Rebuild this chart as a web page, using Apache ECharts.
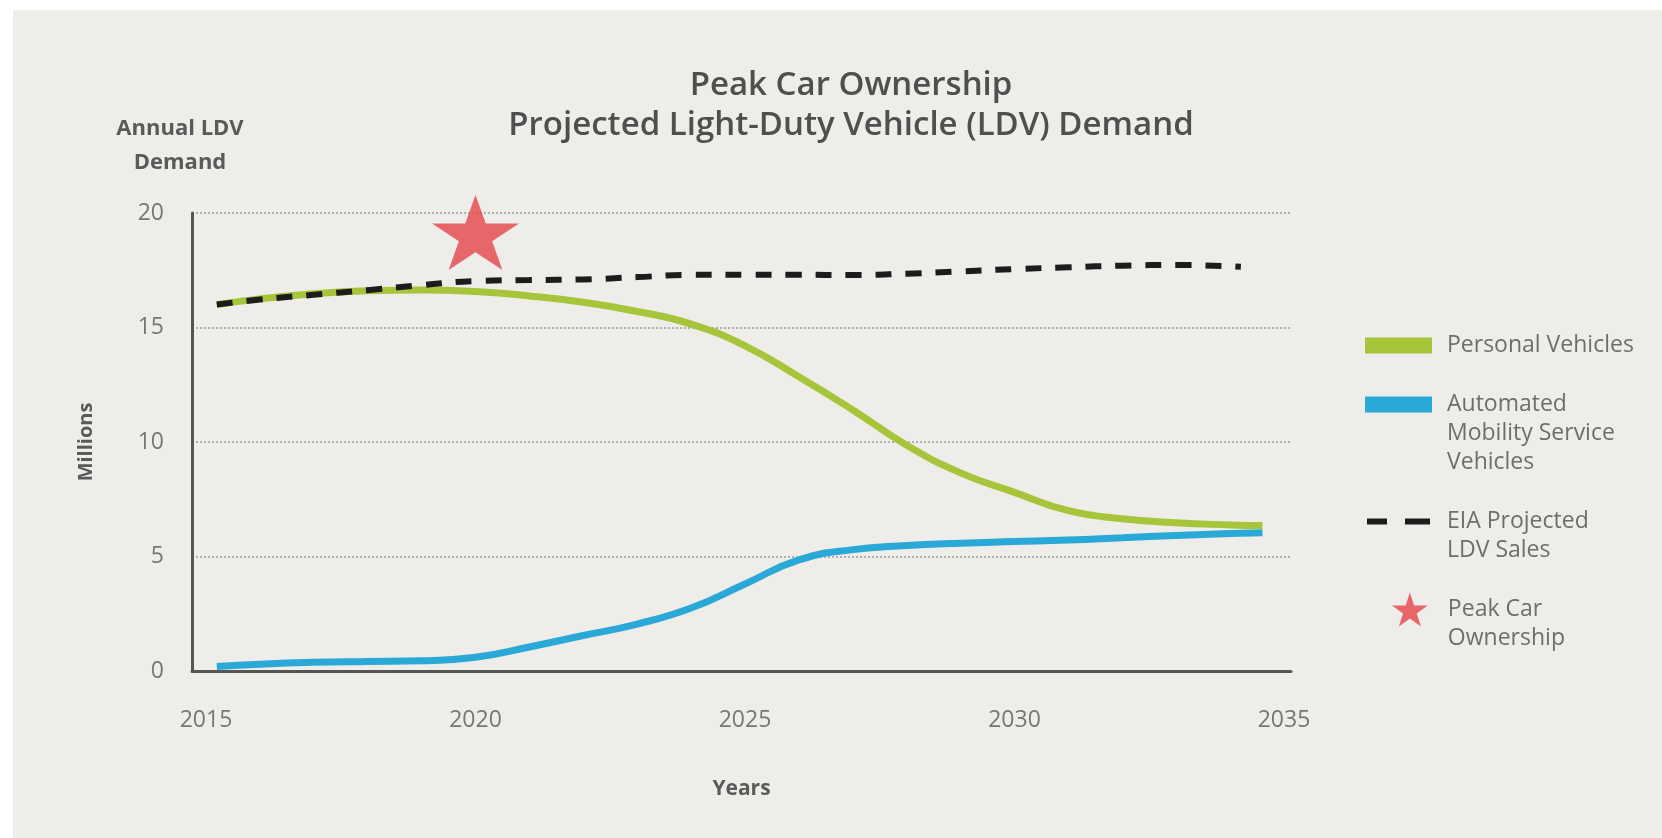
<!DOCTYPE html>
<html>
<head>
<meta charset="utf-8">
<title>Peak Car Ownership</title>
<script src="https://cdn.jsdelivr.net/npm/echarts@6/dist/echarts.min.js"></script>
<style>
	html, body {
		margin: 0;
		padding: 0;
		background: #ffffff;
	}
	#bg {
		position: absolute;
		left: 13px;
		top: 10px;
		right: 0;
		bottom: 0;
		background: #eeede9;
	}
	#chart {
		position: absolute;
		left: 0;
		top: 0;
		width: 1662px;
		height: 838px;
	}
</style>
</head>
<body>
<div id="bg"></div>
<div id="chart"></div>
<script>
	// values (millions of vehicles per year)
	const years = [2015.2, 2016, 2017, 2018, 2019, 2020, 2021, 2022, 2023, 2024, 2025, 2026, 2027, 2028, 2029, 2030, 2031, 2032, 2033, 2034, 2034.6];
	const personalValues = [16.0, 16.25, 16.47, 16.6, 16.64, 16.57, 16.38, 16.1, 15.7, 15.15, 14.2, 12.85, 11.4, 9.86, 8.65, 7.8, 7.0, 6.65, 6.47, 6.38, 6.35];
	const amsValues = [0.2, 0.3, 0.38, 0.42, 0.45, 0.6, 1.05, 1.55, 2.05, 2.75, 3.8, 4.85, 5.3, 5.48, 5.58, 5.65, 5.72, 5.82, 5.92, 6.0, 6.04];

	const eiaYears = [2015.2, 2016, 2017, 2018, 2019, 2020, 2021, 2022, 2023, 2024, 2025, 2026, 2027, 2028, 2029, 2030, 2031, 2032, 2033, 2034.2];
	const eiaValues = [16.0, 16.22, 16.43, 16.63, 16.85, 17.03, 17.07, 17.1, 17.2, 17.3, 17.3, 17.3, 17.29, 17.35, 17.45, 17.55, 17.63, 17.7, 17.73, 17.65];

	const peakYear = [2020];
	const peakValue = [19.15];

	const yearTicks = [2015, 2020, 2025, 2030, 2035];
	const demandTicks = [0, 5, 10, 15, 20];

	const legendText = {
		'Personal Vehicles': 'Personal Vehicles',
		'Automated Mobility Service Vehicles': 'Automated\nMobility Service\nVehicles',
		'EIA Projected LDV Sales': 'EIA Projected\nLDV Sales',
		'Peak Car Ownership': 'Peak Car\nOwnership'
	};

	const FONT = '"Open Sans", "DejaVu Sans", sans-serif';
	const STAR = 'path://M50,0L61.23,34.55L97.55,34.55L68.17,55.9L79.39,90.45L50,69.1L20.61,90.45L31.83,55.9L2.45,34.55L38.77,34.55Z';
	const DASHES = 'path://M0,0h20v6h-20z M38,0h25v6h-25z';

	function pairs(xs, ys) {
		return xs.map((x, i) => [x, ys[i]]);
	}

	// the icon sits next to the first line: pad the text above with empty lines
	function firstLineText(name) {
		let text = legendText[name];
		let extra = text.split('\n').length - 1;
		return '\n'.repeat(extra) + text;
	}

	function legendItem(name, left, top, icon, w, h, padLeft) {
		return {
			data: [name],
			left: left,
			top: top,
			orient: 'vertical',
			padding: 0,
			icon: icon,
			itemWidth: w,
			itemHeight: h,
			selectedMode: false,
			itemStyle: {
				borderWidth: 0
			},
			formatter: firstLineText,
			textStyle: {
				fontFamily: FONT,
				fontSize: 23,
				color: '#6e6e6e',
				lineHeight: 29,
				padding: [0, 0, 0, padLeft]
			}
		};
	}

	const chart = echarts.init(document.getElementById('chart'));

	let option = {
		animation: false,
		backgroundColor: 'transparent',
		textStyle: {
			fontFamily: FONT
		},
		title: [{
			text: 'Peak Car Ownership\nProjected Light-Duty Vehicle (LDV) Demand',
			left: 851,
			top: 66,
			padding: 0,
			textAlign: 'center',
			textStyle: {
				fontFamily: FONT,
				fontSize: 33,
				fontWeight: 600,
				color: '#4f4f4f',
				lineHeight: 40
			}
		}, {
			text: 'Annual LDV\nDemand',
			left: 180,
			top: 112,
			padding: 0,
			textAlign: 'center',
			textStyle: {
				fontFamily: FONT,
				fontSize: 22,
				fontWeight: 'bold',
				color: '#5a5a5a',
				lineHeight: 34
			}
		}],
		legend: [
			legendItem('Personal Vehicles', 1365, 331, 'rect', 67, 16, 10),
			legendItem('Automated Mobility Service Vehicles', 1365, 332, 'rect', 67, 16, 10),
			legendItem('EIA Projected LDV Sales', 1367, 478, DASHES, 63, 6, 12),
			legendItem('Peak Car Ownership', 1392, 566, STAR, 38, 34, 14)
		],
		grid: {
			left: 192,
			right: 371,
			top: 213,
			bottom: 167
		},
		xAxis: {
			type: 'value',
			min: 2014.74,
			max: 2035.13,
			name: 'Years',
			nameLocation: 'middle',
			nameGap: 108,
			nameTextStyle: {
				fontFamily: FONT,
				fontSize: 21,
				fontWeight: 'bold',
				color: '#5a5a5a'
			},
			axisLine: {
				lineStyle: {
					color: '#555555',
					width: 3
				}
			},
			axisTick: {
				show: false
			},
			splitLine: {
				show: false
			},
			axisLabel: {
				customValues: yearTicks,
				margin: 38,
				fontFamily: FONT,
				fontSize: 23,
				color: '#777777',
				formatter: (v) => String(v)
			}
		},
		yAxis: {
			type: 'value',
			min: 0,
			max: 20,
			interval: 5,
			name: 'Millions',
			nameLocation: 'middle',
			nameGap: 96,
			nameRotate: 90,
			nameTextStyle: {
				fontFamily: FONT,
				fontSize: 20,
				fontWeight: 'bold',
				color: '#5a5a5a'
			},
			axisLine: {
				show: true,
				lineStyle: {
					color: '#555555',
					width: 3
				}
			},
			axisTick: {
				show: false
			},
			splitLine: {
				lineStyle: {
					color: '#9a9a9a',
					type: [2, 2],
					width: 1.5
				}
			},
			axisLabel: {
				customValues: demandTicks,
				margin: 28,
				fontFamily: FONT,
				fontSize: 23,
				color: '#777777'
			}
		},
		series: [{
			name: 'Automated Mobility Service Vehicles',
			type: 'line',
			data: pairs(years, amsValues),
			smooth: 0.5,
			showSymbol: false,
			color: '#2aa8d8',
			lineStyle: {
				width: 7,
				color: '#2aa8d8'
			}
		}, {
			name: 'Personal Vehicles',
			type: 'line',
			data: pairs(years, personalValues),
			smooth: 0.5,
			showSymbol: false,
			color: '#a6c53b',
			lineStyle: {
				width: 7,
				color: '#a6c53b'
			}
		}, {
			name: 'EIA Projected LDV Sales',
			type: 'line',
			data: pairs(eiaYears, eiaValues),
			smooth: 0.5,
			showSymbol: false,
			color: '#1c1c1c',
			lineStyle: {
				width: 6,
				color: '#1c1c1c',
				type: [16, 14]
			}
		}, {
			name: 'Peak Car Ownership',
			type: 'scatter',
			data: pairs(peakYear, peakValue),
			symbol: STAR,
			symbolSize: [87, 75],
			color: '#e5434a',
			itemStyle: {
				color: '#e5434a'
			},
			z: 5
		}]
	};

	chart.setOption(option);
</script>
</body>
</html>
